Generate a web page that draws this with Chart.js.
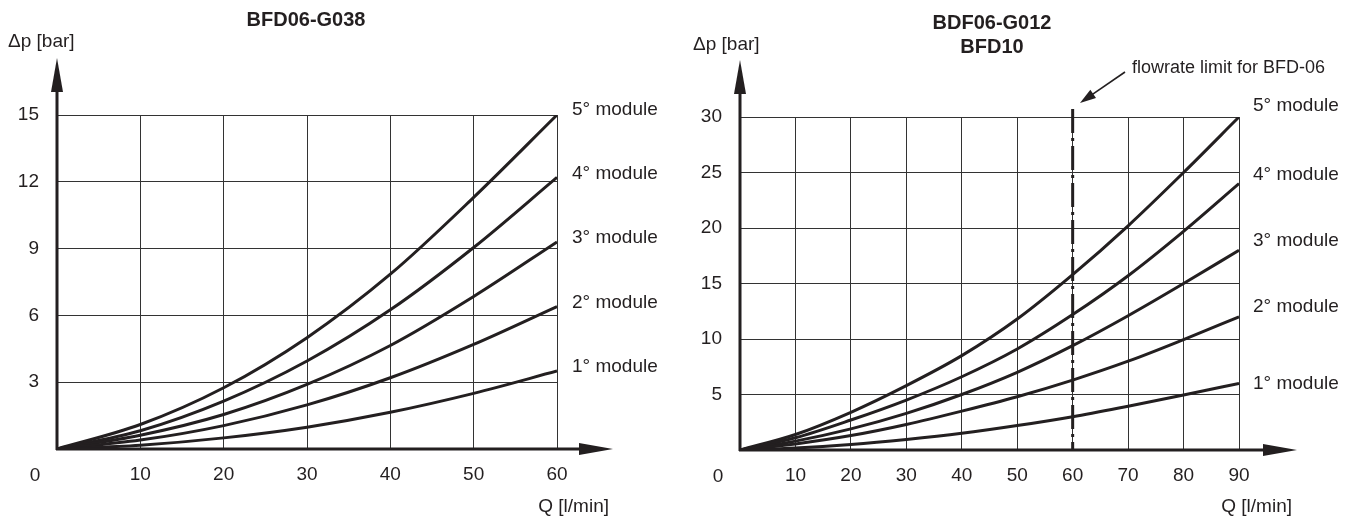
<!DOCTYPE html>
<html>
<head>
<meta charset="utf-8">
<script src="https://cdn.jsdelivr.net/npm/chart.js@4"></script>
<style>
  body { margin: 0; background: #fff; width: 1367px; height: 518px; position: relative; overflow: hidden; }
  canvas { position: absolute; top: 0; }
  #left { left: 0; }
  #right { left: 680px; }
</style>
</head>
<body>
<canvas id="left" width="680" height="518"></canvas>
<canvas id="right" width="687" height="518"></canvas>
<script>
// BFD06-G038
const flowA = [0, 10, 20, 30, 40, 50, 60];
const dpA1 = [0, 0.17, 0.5, 0.98, 1.65, 2.5, 3.5];
const dpA2 = [0, 0.4, 1.05, 1.98, 3.2, 4.7, 6.4];
const dpA3 = [0, 0.62, 1.55, 2.9, 4.65, 6.85, 9.3];
const dpA4 = [0, 0.82, 2.15, 3.95, 6.25, 9.05, 12.2];
const dpA5 = [0, 1.1, 2.75, 5.0, 7.85, 11.3, 15.0];
const xTicksA = [0, 10, 20, 30, 40, 50, 60];
const yTicksA = [0, 3, 6, 9, 12, 15];

// BDF06-G012 / BFD10
const flowB = [0, 10, 20, 30, 40, 50, 60, 70, 80, 90];
const dpB1 = [0, 0.18, 0.5, 0.95, 1.5, 2.2, 3.0, 3.95, 4.95, 6.0];
const dpB2 = [0, 0.55, 1.3, 2.3, 3.5, 4.8, 6.3, 8.0, 9.95, 12.0];
const dpB3 = [0, 0.8, 1.9, 3.3, 5.0, 7.0, 9.4, 12.1, 15.0, 18.0];
const dpB4 = [0, 1.1, 2.7, 4.5, 6.6, 9.1, 12.2, 15.7, 19.7, 24.0];
const dpB5 = [0, 1.4, 3.4, 5.8, 8.5, 11.8, 15.8, 20.2, 25.0, 30.0];
const xTicksB = [0, 10, 20, 30, 40, 50, 60, 70, 80, 90];
const yTicksB = [0, 5, 10, 15, 20, 25, 30];
const limitB = 60;

const moduleNames = ['1° module', '2° module', '3° module', '4° module', '5° module'];

const INK = '#231f20';
const FONT = '"Liberation Sans", Arial, Helvetica, sans-serif';
Chart.defaults.font.family = FONT;
Chart.defaults.font.size = 19;
Chart.defaults.color = INK;

function toPoints(xs, ys) {
  return xs.map((x, i) => ({ x: x, y: ys[i] }));
}

function arrowHead(ctx, tipX, tipY, baseX, baseY, half) {
  const dx = tipX - baseX, dy = tipY - baseY;
  const len = Math.hypot(dx, dy);
  const nx = -dy / len, ny = dx / len;
  ctx.beginPath();
  ctx.moveTo(tipX, tipY);
  ctx.lineTo(baseX + nx * half, baseY + ny * half);
  ctx.lineTo(baseX - nx * half, baseY - ny * half);
  ctx.closePath();
  ctx.fill();
}

// axes with arrows, titles, labels
const decor = {
  id: 'decor',
  afterDraw(chart, args, o) {
    const ctx = chart.ctx;
    const a = chart.chartArea;
    const xs = chart.scales.x, ys = chart.scales.y;
    ctx.save();
    ctx.fillStyle = INK;
    ctx.strokeStyle = INK;

    if (o.limit !== undefined) {
      const lx = xs.getPixelForValue(o.limit);
      ctx.lineWidth = 3;
      ctx.setLineDash([24, 5, 3, 5]);
      ctx.beginPath();
      ctx.moveTo(lx, o.limitTop);
      ctx.lineTo(lx, a.bottom);
      ctx.stroke();
      ctx.setLineDash([]);
      // pointer to the limit line
      const [x0, y0, x1, y1] = o.noteArrow;
      const len = Math.hypot(x0 - x1, y0 - y1);
      const ux = (x0 - x1) / len, uy = (y0 - y1) / len;
      ctx.lineWidth = 1.6;
      ctx.beginPath();
      ctx.moveTo(x0, y0);
      ctx.lineTo(x1 + ux * 12, y1 + uy * 12);
      ctx.stroke();
      arrowHead(ctx, x1, y1, x1 + ux * 16, y1 + uy * 16, 5);
      ctx.font = '18px ' + FONT;
      ctx.textAlign = 'left';
      ctx.textBaseline = 'middle';
      ctx.fillText('flowrate limit for BFD-06', o.noteX, o.noteY);
    }

    // axes
    ctx.lineWidth = 3;
    ctx.beginPath();
    ctx.moveTo(a.left, a.bottom + 1);
    ctx.lineTo(a.left, o.yArrow + 30);
    ctx.moveTo(a.left - 1, a.bottom);
    ctx.lineTo(o.xArrow - 30, a.bottom);
    ctx.stroke();
    arrowHead(ctx, a.left, o.yArrow, a.left, o.yArrow + 34, 6);
    arrowHead(ctx, o.xArrow, a.bottom, o.xArrow - 34, a.bottom, 6);

    // titles
    ctx.font = 'bold 20px ' + FONT;
    ctx.textAlign = 'center';
    ctx.textBaseline = 'middle';
    o.title.forEach((t, i) => ctx.fillText(t, o.titleX, o.titleY + i * 24));

    ctx.font = '19px ' + FONT;
    ctx.textAlign = 'left';
    ctx.fillText('Δp [bar]', o.dpX, o.dpY);
    ctx.textAlign = 'right';
    ctx.fillText('Q [l/min]', o.qX, 507);
    ctx.textAlign = 'center';
    ctx.fillText('0', a.left - 22, o.zeroY);

    // curve names
    ctx.textAlign = 'left';
    chart.data.datasets.forEach((ds, i) => {
      const last = ds.data[ds.data.length - 1];
      const y = ys.getPixelForValue(last.y) + o.labelShift[i];
      ctx.fillText(moduleNames[i], a.right + o.labelGap, y);
    });
    ctx.restore();
  }
};

function makeChart(id, flow, series, xTicks, yTicks, xMax, yMax, layout, extra) {
  const datasets = series.map((s, i) => ({
    label: moduleNames[i],
    data: toPoints(flow, s),
    borderColor: INK,
    borderWidth: 3,
    pointRadius: 0,
    cubicInterpolationMode: 'monotone',
    fill: false
  }));
  return new Chart(document.getElementById(id), {
    type: 'line',
    data: { datasets: datasets },
    plugins: [decor],
    options: {
      responsive: false,
      animation: false,
      events: [],
      layout: { padding: { left: 0, top: layout.top, right: layout.right, bottom: 0 } },
      plugins: {
        legend: { display: false },
        tooltip: { enabled: false },
        decor: extra
      },
      scales: {
        x: {
          type: 'linear',
          min: 0,
          max: xMax,
          afterBuildTicks: s => { s.ticks = xTicks.map(v => ({ value: v })); },
          afterFit: s => { s.height = layout.xh; },
          border: { display: false },
          grid: { color: '#333', lineWidth: 1, drawTicks: false },
          ticks: { padding: 14, maxRotation: 0, callback: v => v === 0 ? '' : v }
        },
        y: {
          type: 'linear',
          min: 0,
          max: yMax,
          afterBuildTicks: s => { s.ticks = yTicks.map(v => ({ value: v })); },
          afterFit: s => { s.width = layout.yw; },
          border: { display: false },
          grid: { color: '#333', lineWidth: 1, drawTicks: false },
          ticks: { padding: 18, callback: v => v === 0 ? '' : v }
        }
      }
    }
  });
}

makeChart('left', flowA, [dpA1, dpA2, dpA3, dpA4, dpA5], xTicksA, yTicksA, 60, 15,
  { top: 115, right: 123, xh: 69, yw: 57 },
  {
    title: ['BFD06-G038'], titleX: 306, titleY: 20,
    dpX: 8, dpY: 42, qX: 609, zeroY: 476,
    xArrow: 613, yArrow: 58,
    labelGap: 15, labelShift: [-4, -4, -4, -4, -5]
  });

makeChart('right', flowB, [dpB1, dpB2, dpB3, dpB4, dpB5], xTicksB, yTicksB, 90, 30,
  { top: 117, right: 128, xh: 68, yw: 60 },
  {
    title: ['BDF06-G012', 'BFD10'], titleX: 312, titleY: 23,
    dpX: 13, dpY: 45, qX: 612, zeroY: 477,
    xArrow: 617, yArrow: 60,
    labelGap: 14, labelShift: [0, -10, -9, -9, -11],
    limit: limitB, limitTop: 109,
    noteArrow: [445, 72, 400, 103], noteX: 452, noteY: 68
  });
</script>
</body>
</html>
